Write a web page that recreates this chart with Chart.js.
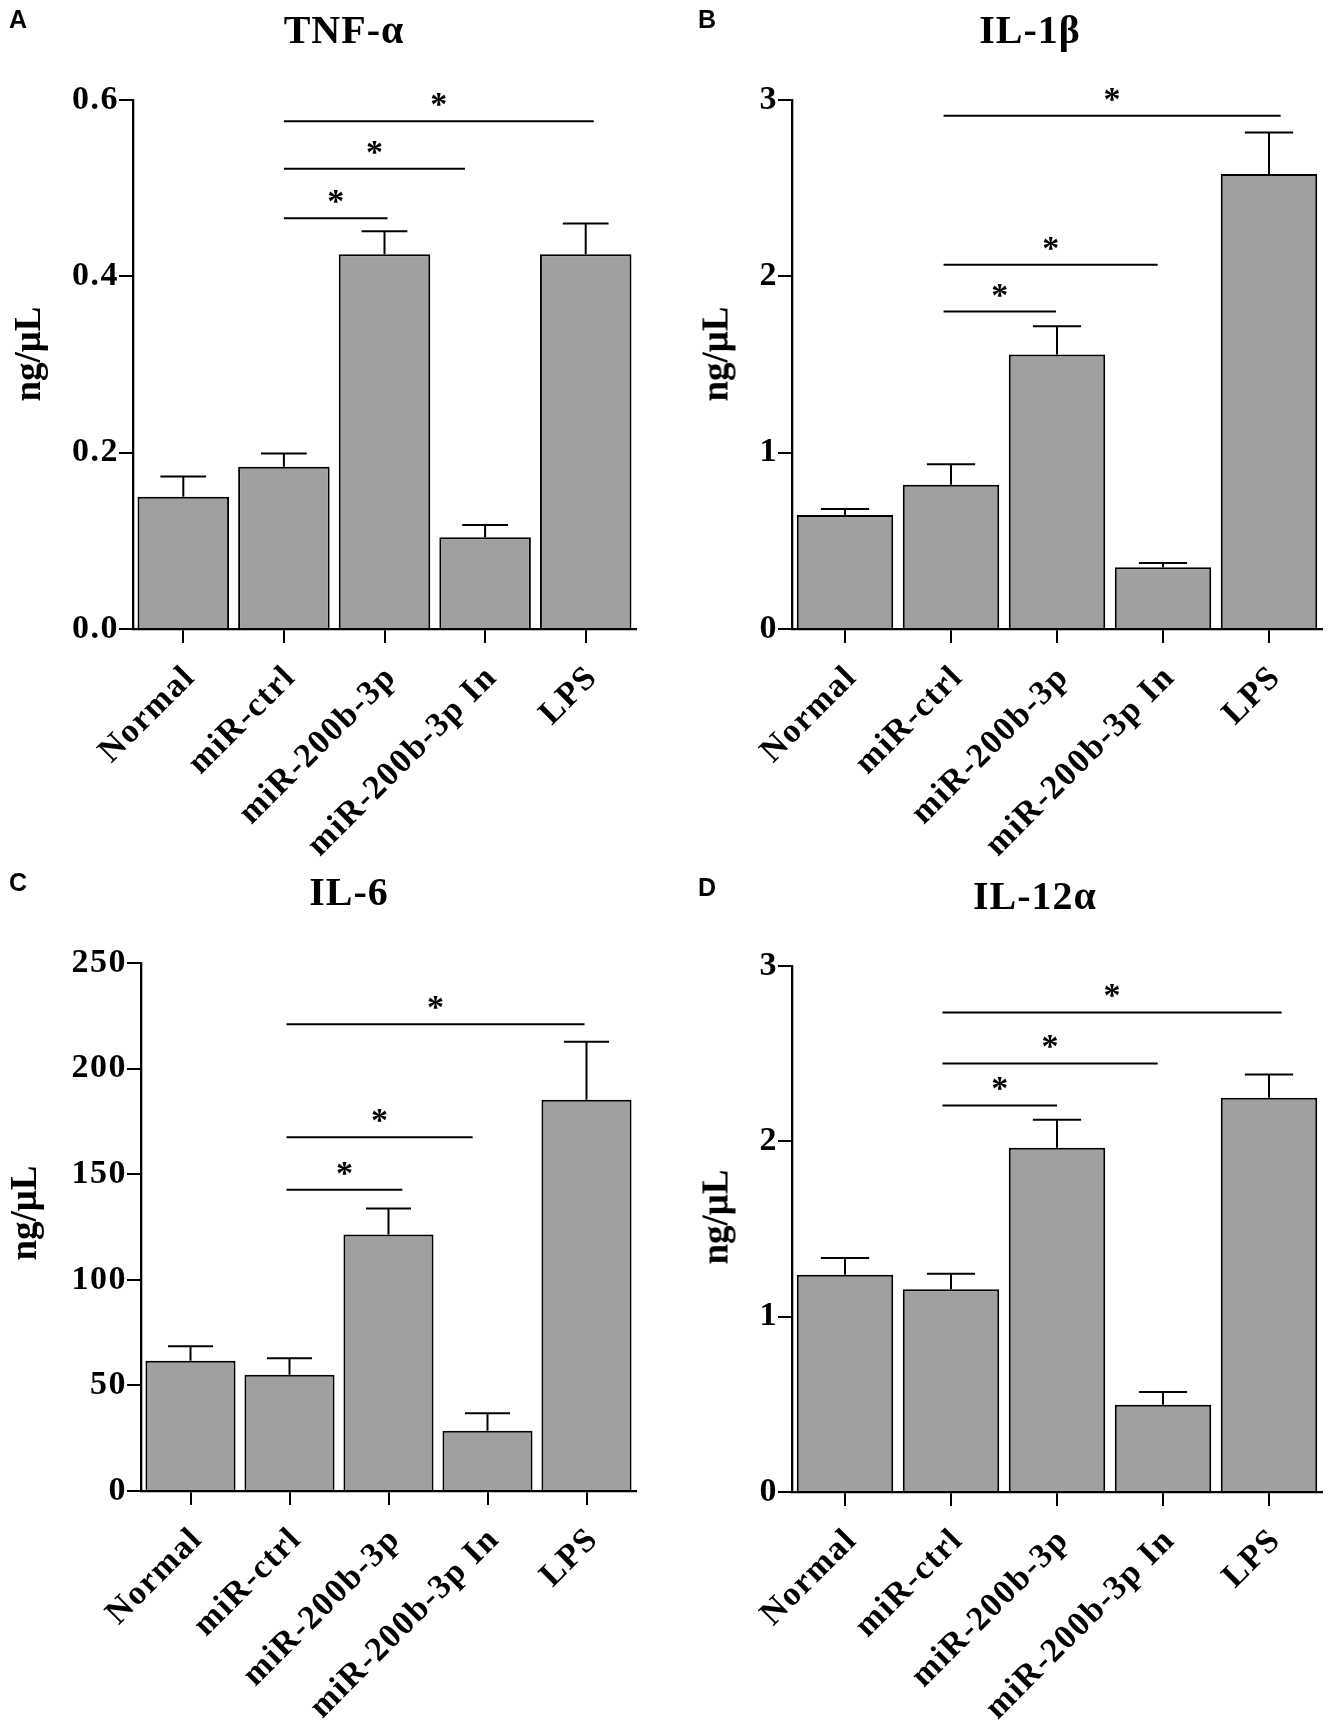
<!DOCTYPE html>
<html>
<head>
<meta charset="utf-8">
<script src="https://cdn.jsdelivr.net/npm/chart.js@4.4.1/dist/chart.umd.min.js"></script>
<style>
  html, body { margin: 0; padding: 0; background: #fff; }
  #fig { position: relative; width: 1329px; height: 1720px; background: #fff; overflow: hidden; }
  #fig canvas { position: absolute; }
  .letter { position: absolute; font: bold 25px "Liberation Sans", Arial, sans-serif; line-height: 25px; color: #000; }
  .title { position: absolute; width: 400px; text-align: center; font: bold 40px "Liberation Serif", "Times New Roman", serif; line-height: 40px; letter-spacing: 1px; color: #000; }
  .ytitle { position: absolute; width: 200px; text-align: center; font: bold 37px "Liberation Serif", "Times New Roman", serif; line-height: 37px; color: #000;
            transform: translate(-50%, -50%) rotate(-90deg); white-space: nowrap; }
</style>
</head>
<body>
<div id="fig">
  <canvas id="cA" width="664" height="900" style="left:0;top:0"></canvas>
  <canvas id="cB" width="665" height="900" style="left:664px;top:0"></canvas>
  <canvas id="cC" width="664" height="860" style="left:0;top:860px"></canvas>
  <canvas id="cD" width="665" height="860" style="left:664px;top:860px"></canvas>
  <div class="letter" id="lA" style="left:9px;top:7px"></div>
  <div class="letter" id="lB" style="left:698px;top:7px"></div>
  <div class="letter" id="lC" style="left:9px;top:870px"></div>
  <div class="letter" id="lD" style="left:698px;top:875px"></div>
  <div class="title" id="tA" style="left:144px;top:10px"></div>
  <div class="title" id="tB" style="left:830px;top:10px"></div>
  <div class="title" id="tC" style="left:149px;top:872px"></div>
  <div class="title" id="tD" style="left:835px;top:876px"></div>
  <div class="ytitle" id="yA" style="left:27px;top:354px"></div>
  <div class="ytitle" id="yB" style="left:715px;top:354px"></div>
  <div class="ytitle" id="yC" style="left:23px;top:1213px"></div>
  <div class="ytitle" id="yD" style="left:715px;top:1217px"></div>
</div>
<script>
const GROUPS = ['Normal', 'miR-ctrl', 'miR-200b-3p', 'miR-200b-3p In', 'LPS'];
const LETTERS = ['A', 'B', 'C', 'D'];
const TITLES = ['TNF-α', 'IL-1β', 'IL-6', 'IL-12α'];
const Y_TITLE = 'ng/μL';

// TNF-alpha
const TNF_MEAN = [0.150, 0.184, 0.425, 0.104, 0.425];
const TNF_SEM = [0.023, 0.015, 0.026, 0.014, 0.035];
const TNF_TICKS = ['0.0', '0.2', '0.4', '0.6'];
// [from group, to group, height]
const TNF_SIG = [[1, 2.03, 0.466], [1, 2.80, 0.522], [1, 4.08, 0.576]];

// IL-1beta
const IL1B_MEAN = [0.647, 0.818, 1.557, 0.350, 2.580];
const IL1B_SEM = [0.033, 0.117, 0.160, 0.025, 0.235];
const IL1B_TICKS = ['0', '1', '2', '3'];
const IL1B_SIG = [[0.93, 1.99, 1.80], [0.93, 2.95, 2.066], [0.93, 4.11, 2.91]];

// IL-6
const IL6_MEAN = [61.7, 55.0, 121.4, 28.5, 185.2];
const IL6_SEM = [6.8, 7.8, 12.4, 8.3, 27.5];
const IL6_TICKS = ['0', '50', '100', '150', '200', '250'];
const IL6_SIG = [[0.97, 2.14, 142.6], [0.97, 2.85, 167.5], [0.97, 3.98, 221.0]];

// IL-12alpha
const IL12_MEAN = [1.239, 1.157, 1.963, 0.497, 2.248];
const IL12_SEM = [0.095, 0.088, 0.160, 0.074, 0.133];
const IL12_TICKS = ['0', '1', '2', '3'];
const IL12_SIG = [[0.92, 2.0, 2.205], [0.92, 2.95, 2.444], [0.92, 4.12, 2.735]];

const SERIF = '"Liberation Serif", "Times New Roman", serif';

// the original's lettering is a little stretched
const spacing = {
    id: 'spacing',
    beforeLayout( chart ) { chart.ctx.letterSpacing = '1.5px'; },
    beforeDraw( chart ) { chart.ctx.letterSpacing = '1.5px'; },
};

// upper error bars and significance lines with stars
const marks = {
    id: 'marks',
    afterDatasetsDraw( chart ) {
        const { ctx, scales: { x, y } } = chart;
        const ds = chart.data.datasets[ 0 ];
        const meta = chart.getDatasetMeta( 0 );
        ctx.save();
        ctx.strokeStyle = '#000';
        ctx.lineWidth = 2;
        meta.data.forEach( ( bar, i ) => {
            const top = y.getPixelForValue( ds.data[ i ] + ds.errors[ i ] );
            const half = bar.width / 4;
            ctx.beginPath();
            ctx.moveTo( bar.x, bar.y );
            ctx.lineTo( bar.x, top );
            ctx.moveTo( bar.x - half, top );
            ctx.lineTo( bar.x + half, top );
            ctx.stroke();
        } );
        ctx.letterSpacing = '0px';
        ctx.fillStyle = '#000';
        ctx.font = 'bold 34px ' + SERIF;
        ctx.textAlign = 'center';
        ctx.textBaseline = 'alphabetic';
        ds.pairs.forEach( ( [ a, b, h ] ) => {
            const x1 = x.getPixelForValue( a );
            const x2 = x.getPixelForValue( b );
            const py = y.getPixelForValue( h );
            ctx.beginPath();
            ctx.moveTo( x1, py );
            ctx.lineTo( x2, py );
            ctx.stroke();
            ctx.fillText( '*', ( x1 + x2 ) / 2, py - 6 );
        } );
        ctx.restore();
    },
};

function makeChart( id, cfg ) {
    return new Chart( document.getElementById( id ), {
        type: 'bar',
        data: {
            labels: GROUPS,
            datasets: [ {
                data: cfg.mean,
                errors: cfg.sem,
                pairs: cfg.sig,
                backgroundColor: '#a0a0a0',
                borderColor: '#000',
                borderWidth: 2,
                barPercentage: 0.91,
                categoryPercentage: 1,
            } ],
        },
        options: {
            responsive: false,
            animation: false,
            layout: { padding: cfg.pad },
            plugins: { legend: { display: false }, tooltip: { enabled: false } },
            scales: {
                x: {
                    offset: true,
                    grid: { offset: false, drawOnChartArea: false, color: '#000', lineWidth: 2, tickLength: 14 },
                    border: { color: '#000', width: 2.3 },
                    ticks: {
                        autoSkip: false, minRotation: 45, maxRotation: 45, padding: 15, labelOffset: 7,
                        color: '#000', font: { family: SERIF, size: 34, weight: 'bold' },
                    },
                    afterFit( s ) { s.height = cfg.xh; },
                },
                y: {
                    min: 0,
                    max: cfg.max,
                    grid: { drawOnChartArea: false, color: '#000', lineWidth: 2, tickLength: 14 },
                    border: { color: '#000', width: 2.3 },
                    ticks: {
                        stepSize: cfg.step, padding: 0, color: '#000',
                        font: { family: SERIF, size: 34, weight: 'bold' },
                        callback: ( v, i ) => cfg.ticks[ i ],
                    },
                    afterFit( s ) { s.width = cfg.yw; },
                },
            },
        },
        plugins: [ spacing, marks ],
    } );
}

[ 'A', 'B', 'C', 'D' ].forEach( ( k, i ) => {
    document.getElementById( 'l' + k ).textContent = LETTERS[ i ];
    document.getElementById( 't' + k ).textContent = TITLES[ i ];
    document.getElementById( 'y' + k ).textContent = Y_TITLE;
} );

makeChart( 'cA', {
    mean: TNF_MEAN, sem: TNF_SEM, sig: TNF_SIG, ticks: TNF_TICKS, max: 0.6, step: 0.2,
    pad: { left: 6, right: 28, top: 100, bottom: 40 }, yw: 127, xh: 231,
} );
makeChart( 'cB', {
    mean: IL1B_MEAN, sem: IL1B_SEM, sig: IL1B_SIG, ticks: IL1B_TICKS, max: 3, step: 1,
    pad: { left: 30, right: 7, top: 100, bottom: 40 }, yw: 98, xh: 231,
} );
makeChart( 'cC', {
    mean: IL6_MEAN, sem: IL6_SEM, sig: IL6_SIG, ticks: IL6_TICKS, max: 250, step: 50,
    pad: { left: 1, right: 28, top: 103, bottom: 0 }, yw: 140, xh: 229,
} );
makeChart( 'cD', {
    mean: IL12_MEAN, sem: IL12_SEM, sig: IL12_SIG, ticks: IL12_TICKS, max: 3, step: 1,
    pad: { left: 30, right: 7, top: 106, bottom: 0 }, yw: 98, xh: 228,
} );
</script>
</body>
</html>
